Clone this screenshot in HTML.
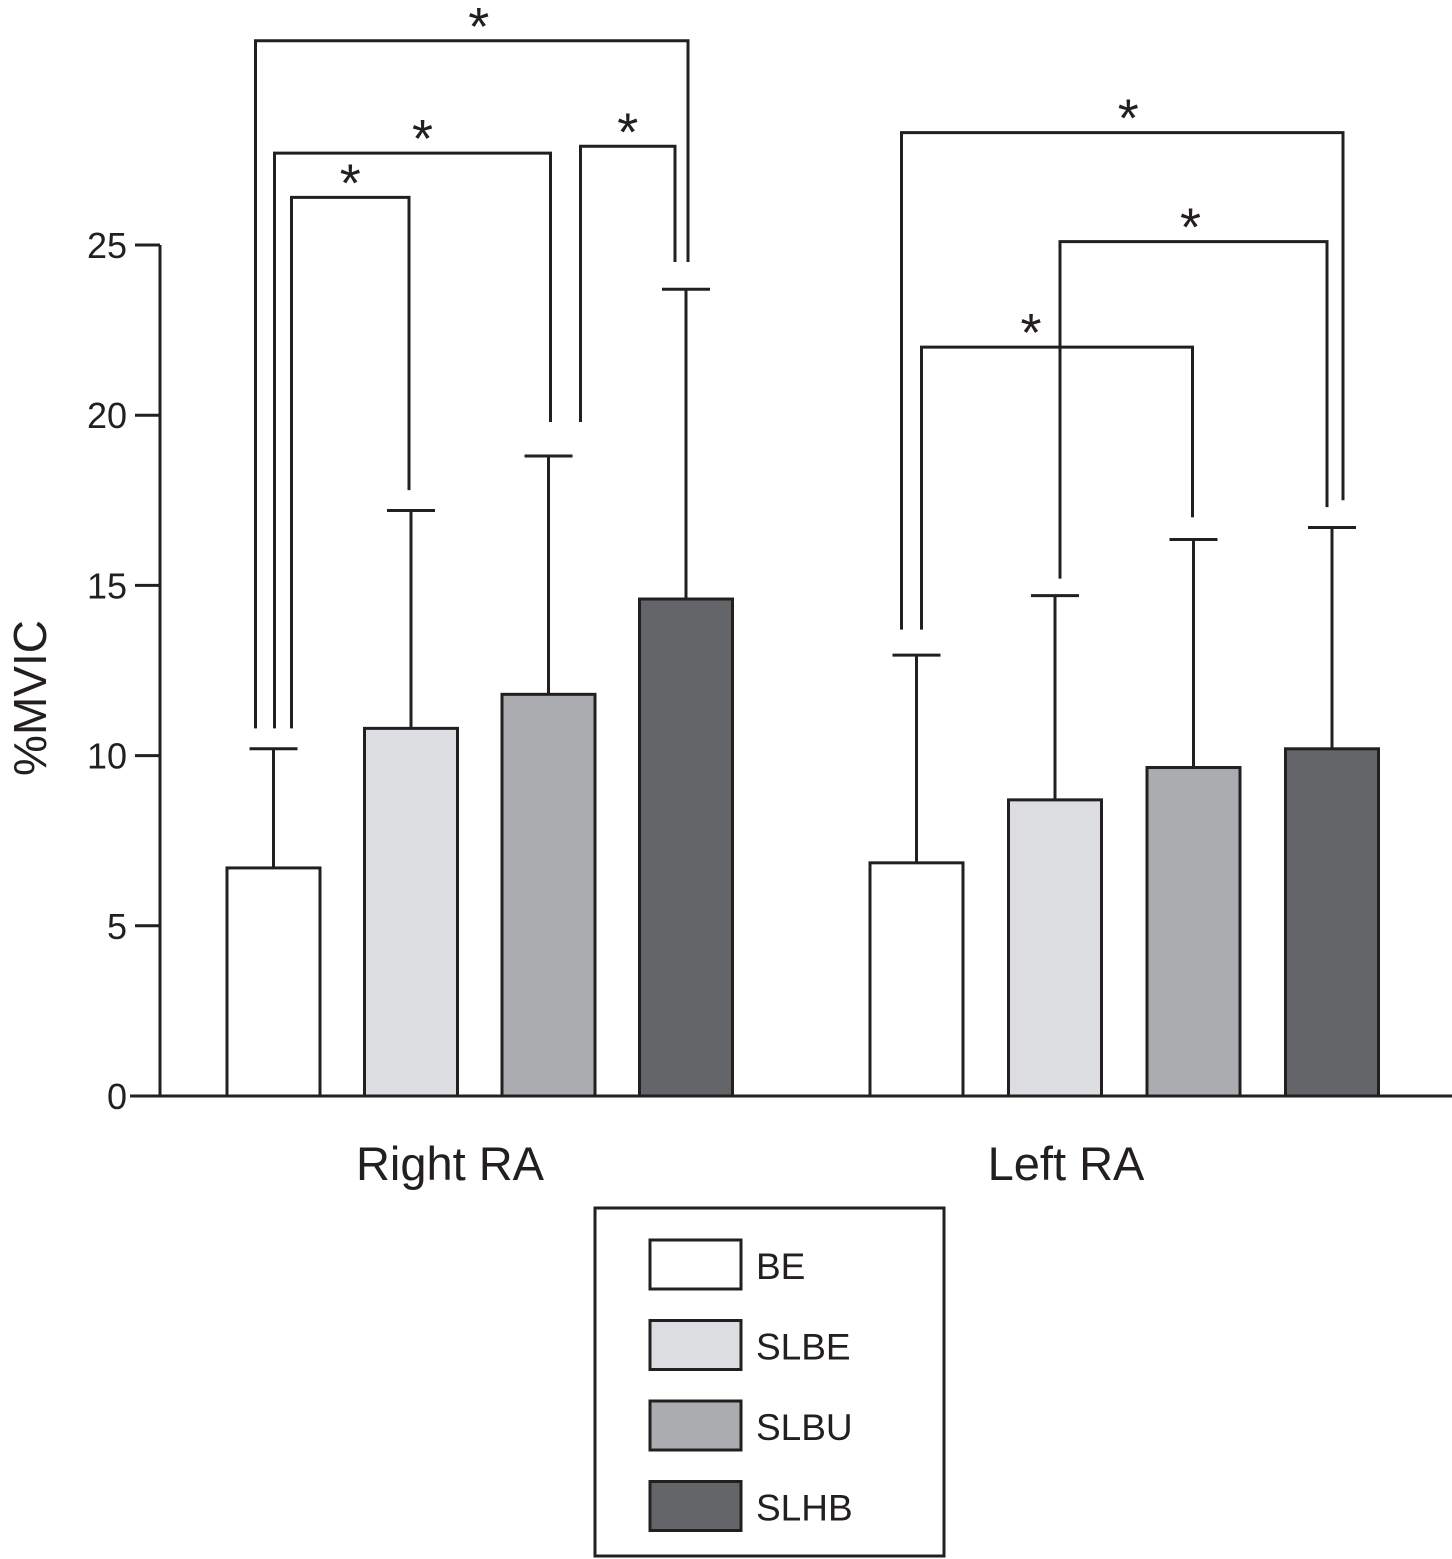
<!DOCTYPE html>
<html><head><meta charset="utf-8"><style>
html,body{margin:0;padding:0;background:#fff}
svg{display:block;font-family:"Liberation Sans",Arial,sans-serif}
</style></head><body>
<svg id="chart" width="1452" height="1559" viewBox="0 0 1452 1559"></svg>
<script>
const groups=["Right RA","Left RA"];
const series=["BE","SLBE","SLBU","SLHB"];
const means=[[6.7,10.8,11.8,14.6],[6.85,8.7,9.65,10.2]];
const sds=[[3.5,6.4,7.0,9.1],[6.1,6.0,6.7,6.5]];
const yTicks=[0,5,10,15,20,25];
const colors=["#ffffff","#dcdde0","#abacb0","#636569"];
// brackets: [group, barA, barB, top value, legA value, legB value, legA dx, legB dx, star dx]
const brackets=[
 [0,0,3,31.0,10.8,24.5,-18,2,7],
 [0,0,2,27.7,10.8,19.8,1,2,10],
 [0,0,1,26.4,10.8,17.8,18,-2,0],
 [0,2,3,27.9,19.8,24.5,32,-11,0],
 [1,0,3,28.3,13.7,17.5,-15,11,6],
 [1,1,3,25.1,15.2,17.3,5,-5,-3],
 [1,0,2,22.0,13.7,17.0,5,-1,-26]
];
const S="#231f20",NS="http://www.w3.org/2000/svg";
const svg=document.getElementById('chart');
const y0=1096,pxu=34.04;
const yS=v=>y0-v*pxu;
const groupStart=[227,870],barStep=[137.5,138.5],bw=93;
const barX=(g,i)=>groupStart[g]+i*barStep[g];
const labelX=[450,1066];
function mk(t,a,txt){const e=document.createElementNS(NS,t);for(const k in a)e.setAttribute(k,a[k]);if(txt!==undefined)e.textContent=txt;svg.appendChild(e);return e;}
let e=mk('line',{x1:160,y1:yS(25),x2:160,y2:y0,stroke:S,'stroke-width':3});

e=mk('line',{x1:130,y1:y0,x2:1452,y2:y0,stroke:S,'stroke-width':3});

yTicks.forEach(t=>{
 const l=mk('line',{x1:135,y1:yS(t),x2:160,y2:yS(t),stroke:S,'stroke-width':3});
 
 const tx=mk('text',{x:127,y:yS(t)+13,'text-anchor':'end','font-size':36,fill:S},t);
 
});
e=mk('text',{x:0,y:0,transform:'translate(46,698) rotate(-90)','text-anchor':'middle','font-size':46,fill:S},'%MVIC');

groups.forEach((g,gi)=>{
 const t=mk('text',{x:labelX[gi],y:1180,'text-anchor':'middle','font-size':47,fill:S},g);
 
 means[gi].forEach((m,i)=>{
  const x=barX(gi,i),c=x+bw/2;
  const et=yS(m+sds[gi][i]);
  const l1=mk('line',{x1:c,y1:yS(m),x2:c,y2:et,stroke:S,'stroke-width':3});
  
  const l2=mk('line',{x1:c-24,y1:et,x2:c+24,y2:et,stroke:S,'stroke-width':3});
  
  const r=mk('rect',{x:x,y:yS(m),width:bw,height:y0-yS(m),fill:colors[i],stroke:S,'stroke-width':3});
  
 });
});
brackets.forEach(b=>{
 const [g,a,c,top,la,lb,da,db,sd]=b;
 const xa=barX(g,a)+bw/2+da,xb=barX(g,c)+bw/2+db;
 const p=mk('polyline',{points:`${xa},${yS(la)} ${xa},${yS(top)} ${xb},${yS(top)} ${xb},${yS(lb)}`,fill:'none',stroke:S,'stroke-width':3});
 
 const s=mk('text',{x:(xa+xb)/2+sd,y:yS(top)+4,'text-anchor':'middle','font-size':54,fill:S},'*');
 
});
e=mk('rect',{x:595,y:1208,width:349,height:348,fill:'#fff',stroke:S,'stroke-width':3});

series.forEach((s,i)=>{
 const y=1240+i*80.5;
 const r=mk('rect',{x:650,y:y,width:91,height:49,fill:colors[i],stroke:S,'stroke-width':3});
 
 const t=mk('text',{x:756,y:y+39,'font-size':37,fill:S},s);
 
});
</script>
</body></html>
